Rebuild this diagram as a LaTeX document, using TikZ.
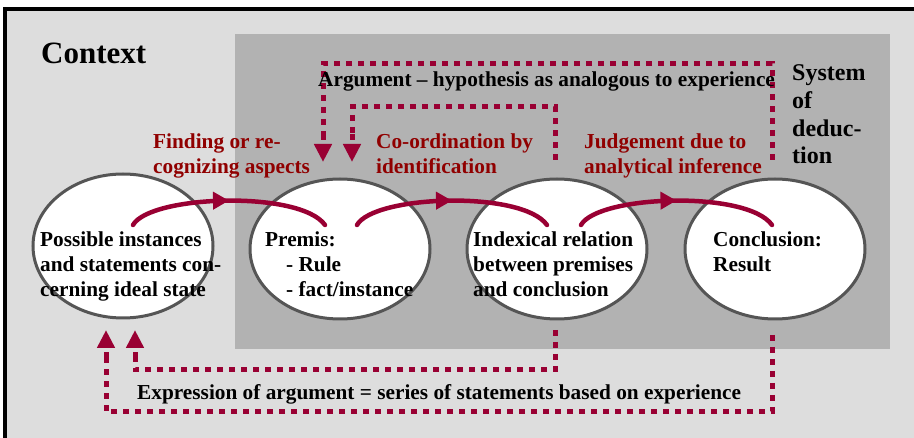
\documentclass[tikz,border=0pt]{standalone}
\usepackage{fontspec}
\setmainfont{Liberation Serif}
\usetikzlibrary{arrows.meta,decorations.markings,shapes.geometric}
\definecolor{ctxgray}{HTML}{DDDDDD}
\definecolor{dedgray}{HTML}{B2B2B2}
\definecolor{rimgray}{HTML}{555555}
\definecolor{wine}{HTML}{990033}
\definecolor{labelred}{HTML}{900000}
\tikzset{
  stage/.style={ellipse, draw=rimgray, line width=3pt, fill=white,
    minimum width=180pt, minimum height=140pt, inner sep=0pt},
  % anchored at the baseline of the last line
  txt/.style={anchor=base west, inner sep=0pt, align=left,
    font=\bfseries\fontsize{21.3}{25}\selectfont},
  redtxt/.style={txt, text=labelred},
  flow/.style={draw=wine, line width=4.5pt, line cap=round,
    postaction={decorate},
    decoration={markings, mark=at position 0.5 with
      {\arrow{Triangle[length=16pt,width=17pt]}}}},
  feedback/.style={draw=wine, line width=5pt, dash pattern=on 6pt off 6pt,
    -{Triangle[length=18pt,width=17pt]}},
  feedbackline/.style={draw=wine, line width=5pt, dash pattern=on 6pt off 6pt},
}
\begin{document}
\begin{tikzpicture}[x=1pt,y=-1pt]
\useasboundingbox (0,0) rectangle (914,438);
% context frame and system-of-deduction area
\fill[white] (0,0) rectangle (914,438);
\filldraw[fill=ctxgray, draw=black, line width=4pt] (4.7,8.7) rectangle (930,460);
\fill[dedgray] (235,34) rectangle (890,349);

% the four stages
\node[stage, minimum height=144pt] (e1) at (123,246) {};
\node[stage] (e2) at (340,249) {};
\node[stage] (e3) at (557,249) {};
\node[stage] (e4) at (775,249) {};

% stage texts
\node[txt] (t1) at (40,297) {Possible instances\\and statements con-\\cerning ideal state};
\node[txt] (t2) at (265,297) {Premis:\\\hspace{21pt}- Rule\\\hspace{21pt}- fact/instance};
\node[txt] (t3) at (473,297) {Indexical relation\\between premises\\and conclusion};
\node[txt] (t4) at (713,272) {Conclusion:\\Result};

% headings
\node[anchor=base west, inner sep=0pt, font=\bfseries\fontsize{31}{36}\selectfont] (ctx) at (41,64) {Context};
\node[anchor=base west, inner sep=0pt, align=left, font=\bfseries\fontsize{24}{27.7}\selectfont] (sys) at (792,164) {System\\of\\deduc-\\tion};

% transition labels
\node[redtxt] (l1) at (153,174) {Finding or re-\\cognizing aspects};
\node[redtxt] (l2) at (376,174) {Co-ordination by\\identification};
\node[redtxt] (l3) at (584,174) {Judgement due to\\analytical inference};

% forward transitions
\coordinate (a1s) at (133,225); \coordinate (a1e) at (325,225);
\coordinate (a2s) at (357,225); \coordinate (a2e) at (547,225);
\coordinate (a3s) at (581,225); \coordinate (a3e) at (772,225);
\draw[flow] (a1s) .. controls (150,195) and (300,190) .. (a1e);
\draw[flow] (a2s) .. controls (374,195) and (522,190) .. (a2e);
\draw[flow] (a3s) .. controls (598,195) and (747,190) .. (a3e);

% feedback loops above
\coordinate (u1s) at (772,160); \coordinate (u1e) at (323,162);
\coordinate (u2s) at (555,160); \coordinate (u2e) at (352,162);
\draw[feedbackline] (u1s) -- (772,64) -- (323,64) -- (323,140);
\draw[feedback] (323,134) -- (u1e);
\draw[feedbackline] (u2s) -- (555,107) -- (352,107) -- (352,140);
\draw[feedback] (352,134) -- (u2e);
\node[txt] (arg) at (318,87) {Argument – hypothesis as analogous to experience};

% feedback loops below
\coordinate (d1s) at (555,330); \coordinate (d1e) at (135,330);
\coordinate (d2s) at (772,335); \coordinate (d2e) at (106,330);
\draw[feedbackline] (d1s) -- (555,370) -- (135,370) -- (135,352);
\draw[feedback] (135,358) -- (d1e);
\draw[feedbackline] (d2s) -- (772,412) -- (106,412) -- (106,352);
\draw[feedback] (106,358) -- (d2e);
\node[txt] (expr) at (137,400) {Expression of argument = series of statements based on experience};
\end{tikzpicture}
\end{document}
